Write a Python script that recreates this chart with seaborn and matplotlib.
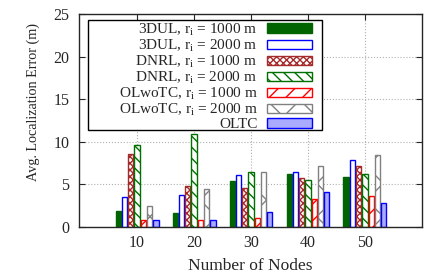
import matplotlib
matplotlib.use('Agg')
import matplotlib.pyplot as plt
from matplotlib.patches import Rectangle
import seaborn as sns
import pandas as pd

# Localization error per method
nodes = [10, 20, 30, 40, 50]
methods = [
    r'3DUL, r$_{\rm i}$ = 1000 m',
    r'3DUL, r$_{\rm i}$ = 2000 m',
    r'DNRL, r$_{\rm i}$ = 1000 m',
    r'DNRL, r$_{\rm i}$ = 2000 m',
    r'OLwoTC, r$_{\rm i}$ = 1000 m',
    r'OLwoTC, r$_{\rm i}$ = 2000 m',
    'OLTC',
]
dul_1000 = [1.9, 1.6, 5.4, 6.2, 5.8]
dul_2000 = [3.5, 3.7, 6.1, 6.4, 7.8]
dnrl_1000 = [8.6, 4.75, 4.6, 5.7, 7.1]
dnrl_2000 = [9.6, 10.9, 6.4, 5.45, 6.25]
olwotc_1000 = [0.85, 0.85, 1.1, 3.3, 3.6]
olwotc_2000 = [2.4, 4.4, 6.5, 7.2, 8.4]
oltc = [0.85, 0.85, 1.7, 4.15, 2.85]

series = [dul_1000, dul_2000, dnrl_1000, dnrl_2000, olwotc_1000, olwotc_2000, oltc]
rows = []
for m, vals in zip(methods, series):
    for n, v in zip(nodes, vals):
        rows.append({'Nodes': n, 'Method': m, 'Error': v})
df = pd.DataFrame(rows)

sns.set_style('ticks')
plt.rcParams['font.family'] = ['Liberation Serif', 'DejaVu Serif']
plt.rcParams['mathtext.fontset'] = 'custom'
plt.rcParams['mathtext.rm'] = 'Liberation Serif'
plt.rcParams['mathtext.it'] = 'Liberation Serif:italic'
plt.rcParams['hatch.linewidth'] = 1.0

fig = plt.figure(figsize=(4.27, 2.75), dpi=100)
ax = fig.add_axes([0.185, 0.175, 0.803, 0.774])

sns.barplot(data=df, x='Nodes', y='Error', hue='Method', hue_order=methods,
            width=0.77, gap=0.15, ax=ax, saturation=1, legend=True)

# (face, edge, hatch) per method
styles = [
    ('#006400', '#006400', None),
    ('white', '#0000ff', None),
    ('white', '#a52a2a', 'xxxxx'),
    ('white', '#007000', '\\\\\\'),
    ('white', '#ff0000', '//'),
    ('white', '#808080', 'x'),
    ('#aaaaff', '#0000ff', None),
]
for cont, (fc, ec, h) in zip(ax.containers, styles):
    for bar in cont:
        bar.set_facecolor(fc)
        bar.set_edgecolor(ec)
        bar.set_linewidth(1.0)
        if h:
            bar.set_hatch(h)

ax.set_xlim(-1.02, 5.0)
ax.set_ylim(0, 25)
ax.set_yticks([0, 5, 10, 15, 20, 25])
ax.set_xlabel('Number of Nodes', fontsize=12.5, labelpad=5)
ax.set_ylabel('Avg. Localization Error (m)', fontsize=10.2)
ax.yaxis.set_label_coords(-0.114, 0.588)
ax.tick_params(direction='in', top=True, right=True, labelsize=11.5, length=4)
ax.tick_params(axis='y', pad=7)
ax.tick_params(axis='x', pad=6)
ax.grid(True, linestyle=':', color='#b0b0b0', linewidth=0.8)
ax.set_axisbelow(True)
for s in ax.spines.values():
    s.set_linewidth(1.0)

handles, labels = ax.get_legend_handles_labels()
for hnd, (fc, ec, h) in zip(handles, styles):
    hnd.set_facecolor(fc)
    hnd.set_edgecolor(ec)
    if h:
        hnd.set_hatch(h)

# gnuplot-like key: fixed frame, right-aligned labels, sample on the right
frame = Rectangle((0.026, 0.455), 0.682, 0.517, transform=ax.transAxes,
                  facecolor='white', edgecolor='black', linewidth=1.0, zorder=4)
ax.add_patch(frame)
leg = ax.legend(handles, labels, loc='upper right', bbox_to_anchor=(0.685, 0.972),
                markerfirst=False, fontsize=11, handlelength=3.0, handleheight=0.57,
                labelspacing=0.0, borderpad=0.1, handletextpad=0.6, borderaxespad=0,
                frameon=False)
leg.set_zorder(5)
for col in leg._legend_handle_box.get_children():
    col.align = 'right'

fig.savefig('out.png', dpi=100)
